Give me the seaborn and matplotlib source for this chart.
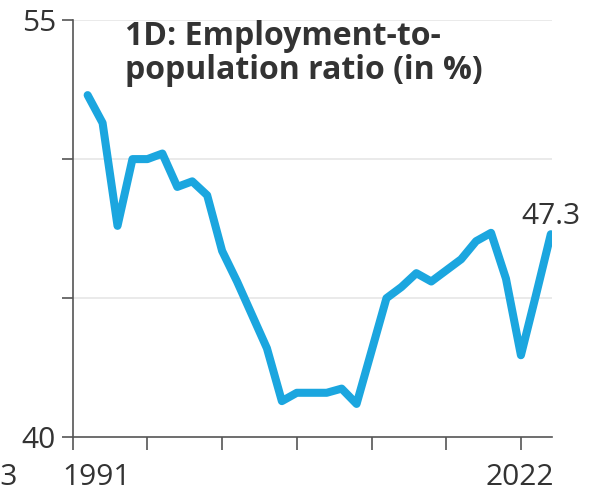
"""Employment-to-population ratio, 1991-2022."""

import matplotlib
matplotlib.use("Agg")

import matplotlib.pyplot as plt
import seaborn as sns

years = [1991, 1992, 1993, 1994, 1995, 1996, 1997, 1998, 1999, 2000, 2001,
         2002, 2003, 2004, 2005, 2006, 2007, 2008, 2009, 2010, 2011, 2012,
         2013, 2014, 2015, 2016, 2017, 2018, 2019, 2020, 2021, 2022]
ratio = [52.3, 51.3, 47.6, 50.0, 50.0, 50.2, 49.0, 49.2, 48.7, 46.7, 45.6,
         44.4, 43.2, 41.3, 41.6, 41.6, 41.6, 41.75, 41.2, 43.1, 45.0, 45.4,
         45.9, 45.6, 46.0, 46.4, 47.05, 47.35, 45.7, 42.95, 45.1, 47.3]
y_ticks = [40, 45, 50, 55]
y_labels = ["40", "", "", "55"]
x_ticks = [1990, 1995, 2000, 2005, 2010, 2015, 2020]
title_lines = ["1D: Employment-to-", "population ratio (in %)"]
end_label = "47.3"

sns.set_style("white")
plt.rcParams["font.family"] = ["Open Sans", "DejaVu Sans"]

TEXT = "#333333"
LINE = "#1ba6df"
W, H = 590, 495
NUM_SIZE = 21.5

fig = plt.figure(figsize=(W / 100, H / 100), dpi=100)
ax = fig.add_axes([72.7 / W, 1 - 437.3 / H, (551.7 - 72.7) / W, (437.3 - 20) / H])

for y in y_ticks[1:]:
    ax.axhline(y, color="#e6e6e6", linewidth=1.2, zorder=0)

sns.lineplot(x=years, y=ratio, color=LINE, linewidth=5.8, ax=ax,
             solid_capstyle="round", solid_joinstyle="round", zorder=3)

ax.set_xlim(1990, 2022.06)
ax.set_ylim(40, 55)
ax.set_yticks(y_ticks)
ax.set_yticklabels(y_labels)
ax.set_xticks(x_ticks)
ax.set_xticklabels([])
ax.tick_params(axis="y", length=8, width=1.2, color="#555555", pad=4,
               labelsize=NUM_SIZE, labelcolor=TEXT, left=True)
ax.tick_params(axis="x", length=9, width=1.2, color="#555555", bottom=True)
for side in ["top", "right"]:
    ax.spines[side].set_visible(False)
for side in ["left", "bottom"]:
    ax.spines[side].set_color("#555555")
    ax.spines[side].set_linewidth(1.2)
ax.set_xlabel("")
ax.set_ylabel("")

# x labels sit under the axis, not exactly on the ticks
for x, label in [(1991.63, "1991"), (2019.95, "2022")]:
    ax.annotate(label, xy=(x, 0), xycoords=("data", "axes fraction"),
                xytext=(0, -34.3), textcoords="offset points",
                ha="center", va="baseline", fontsize=NUM_SIZE, color=TEXT)
fig.text(18 / W, 1 - 485 / H, "2023", ha="right", va="baseline",
         fontsize=NUM_SIZE, color=TEXT)

ax.annotate(end_label, xy=(years[-1], ratio[-1]), xytext=(0, 7.2),
            textcoords="offset points", ha="center", va="baseline",
            fontsize=NUM_SIZE, color=TEXT)

fig.text(125 / W, 1 - 45 / H, title_lines[0], ha="left", va="baseline",
         fontsize=23, fontweight="bold", color=TEXT)
fig.text(125 / W, 1 - 79 / H, title_lines[1], ha="left", va="baseline",
         fontsize=23, fontweight="bold", color=TEXT)

fig.savefig("out.png", dpi=100, facecolor="white")
plt.close(fig)
